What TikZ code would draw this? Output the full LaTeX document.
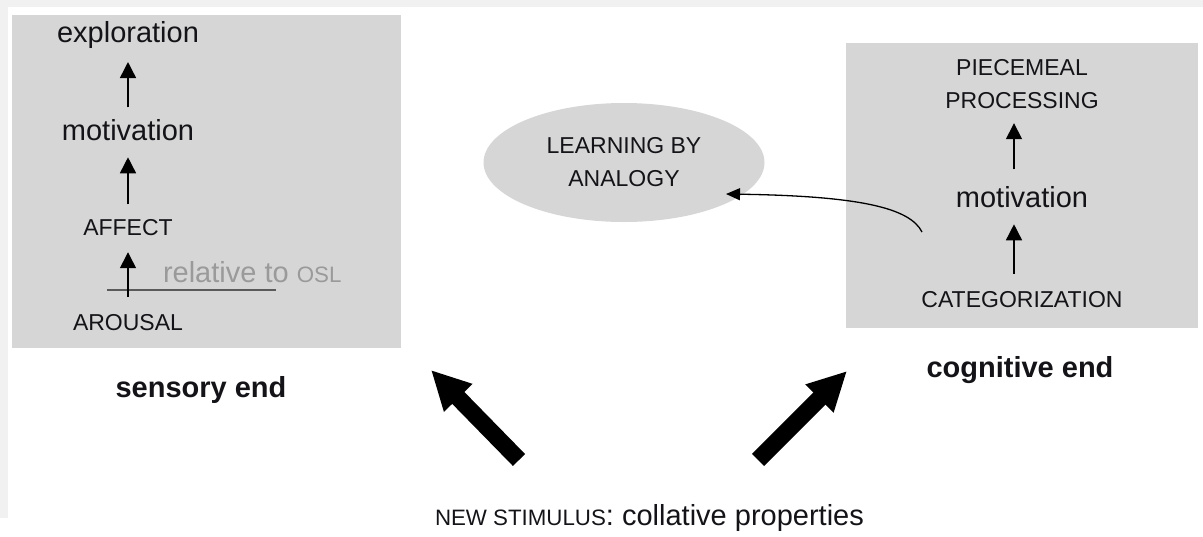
\documentclass[tikz,border=0pt]{standalone}
\usepackage{fontspec}
\setmainfont{Liberation Sans}
\usetikzlibrary{arrows.meta,shapes.geometric,calc}

\definecolor{boxgray}{HTML}{D6D6D6}
\definecolor{edgegray}{HTML}{F1F1F1}
\definecolor{notegray}{HTML}{9A9A9A}
\definecolor{rulegray}{HTML}{5A5A5A}
\definecolor{ink}{HTML}{141418}

\newcommand\lowfont{\fontsize{29}{34}\selectfont}
\newcommand\capfont{\fontsize{23}{33}\selectfont}
\newcommand\smallcapfont{\fontsize{22.3}{25}\selectfont}

\begin{document}
\begin{tikzpicture}[x=1pt,y=-1pt,
  txt/.style={inner sep=0pt, outer sep=0pt, anchor=base, text=ink},
  lower/.style={txt, font=\lowfont},
  upper/.style={txt, font=\capfont},
  heading/.style={txt, font=\lowfont\bfseries},
  stepup/.style={draw=black, line width=1.5pt, -{Triangle[length=16pt 0, width=16pt 0]}},
  bigarrow/.style={draw=black, line width=17pt, line cap=butt, -{Triangle[length=39pt 0, width=37pt 0]}},
  linkarrow/.style={draw=black, line width=1.3pt, -{Triangle[length=14pt 0, width=12pt 0]}}
]
\useasboundingbox (0,0) rectangle (1203,536);

% faint page edges
\fill[edgegray] (0,0) rectangle (1203,7);
\fill[edgegray] (0,0) rectangle (8,518);

% grey panels
\fill[boxgray] (12,15) rectangle (401,348);
\fill[boxgray] (846,43) rectangle (1198,328);

% sensory column
\node[lower] (expl) at (128,42) {exploration};
\node[lower] (mot1) at (128,140) {motivation};
\node[upper] (aff)  at (128,235) {AFFECT};
\node[upper] (aro)  at (128,330) {AROUSAL};
\node[txt, anchor=base west, text=notegray, font=\lowfont] (rel) at (163,282)
  {relative to {\smallcapfont OSL}};
\draw[rulegray, line width=1.2pt] (107,290) -- (276,290);

\draw[stepup, shorten <=11.6pt, shorten >=14pt] (mot1.north) -- (expl.south);
\draw[stepup, shorten <=14.5pt, shorten >=17pt] (aff.north) -- (mot1.south);
\draw[stepup, shorten <=17pt, shorten >=17pt] (aro.north) -- (aff.south);

\node[heading] (sens) at (201,397) {sensory end};

% cognitive column
\node[txt, font=\capfont, align=center, anchor=south] (proc) at (1022,108.5)
  {PIECEMEAL\\PROCESSING};
\node[lower] (mot2) at (1022,207) {motivation};
\node[upper] (cat)  at (1022,307) {CATEGORIZATION};

\draw[stepup, shorten <=16.6pt, shorten >=14.7pt]
  ([xshift=-8pt]mot2.north) -- ([xshift=-8pt]proc.south);
\draw[stepup, shorten <=17.2pt, shorten >=17pt]
  ([xshift=-8pt]cat.north) -- ([xshift=-8pt]mot2.south);

\node[heading] (cog) at (1020,377) {cognitive end};

% analogy bubble
\node[ellipse, fill=boxgray, minimum width=281pt, minimum height=119pt,
      inner sep=0pt, align=center, font=\capfont, text=ink] (ell) at (624,162.5)
  {LEARNING BY\\ANALOGY};
\coordinate (linkstart) at (922,232);
\draw[linkarrow] (linkstart) .. controls (910,208) and (860,196) .. ($(ell.center)+(102,31.5)$);

% new stimulus and its two thrusts
\node[txt, anchor=base west, font=\lowfont] (stim) at (435,525)
  {{\smallcapfont NEW STIMULUS}: collative properties};
\coordinate (lefttail)  at (519,460);
\coordinate (lefttip)   at (431,370);
\coordinate (righttail) at (758,460);
\coordinate (righttip)  at (847,371);
\draw[bigarrow] (lefttail) -- (lefttip);
\draw[bigarrow] (righttail) -- (righttip);
\end{tikzpicture}
\end{document}
